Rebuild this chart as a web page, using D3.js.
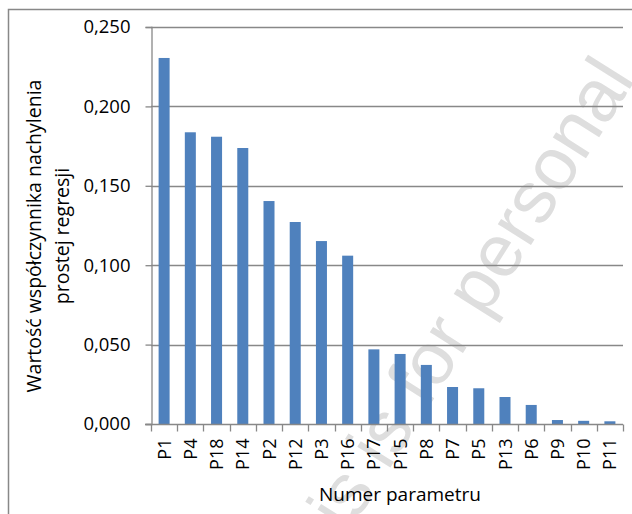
<!DOCTYPE html>
<html>
<head>
<meta charset="utf-8">
<script src="https://cdn.jsdelivr.net/npm/d3@7"></script>
<style>
  body { margin: 0; background: #fff; }
  svg text { font-family: "Open Sans", sans-serif; fill: #000; }
</style>
</head>
<body>
<div id="chart"></div>
<script>
// parameter names, sorted by slope value
var params = ["P1", "P4", "P18", "P14", "P2", "P12", "P3", "P16", "P17",
    "P15", "P8", "P7", "P5", "P13", "P6", "P9", "P10", "P11"];
var slopes = [0.2305, 0.1837, 0.1809, 0.1738, 0.1404, 0.1272, 0.1152, 0.1060, 0.0470,
    0.0441, 0.0372, 0.0233, 0.0225, 0.0170, 0.0120, 0.0025, 0.0020, 0.0017];
var yTicks = [0, 0.05, 0.1, 0.15, 0.2, 0.25];
var yTitle = ["Wartość współczynnika nachylenia", "prostej regresji"];
var xTitle = "Numer parametru";

var width = 632, height = 514;
var margin = {top: 27, right: 9, bottom: 90, left: 151};

var svg = d3.select("#chart").append("svg")
    .attr("width", width)
    .attr("height", height);

//Outer chart frame (runs off the right and bottom edges)
svg.append("rect")
    .attr("x", 8.5).attr("y", 9.5)
    .attr("width", 700).attr("height", 600)
    .attr("fill", "none")
    .attr("stroke", "#888")
    .attr("stroke-width", 1.5);

//Watermark behind the chart
svg.append("text")
    .attr("transform", "translate(636,79) rotate(-57.7)")
    .attr("text-anchor", "end")
    .style("font-family", "Liberation Sans, Arial, sans-serif")
    .style("font-size", "74px")
    .style("fill", "#dedede")
    .text("This is for personal");

var x = d3.scaleBand()
    .domain(params)
    .range([margin.left, width - margin.right])
    .paddingInner(0.58)
    .paddingOuter(0.29);

var y = d3.scaleLinear()
    .domain([0, 0.25])
    .range([height - margin.bottom, margin.top]);

//Horizontal gridlines
svg.append("g")
    .selectAll("line")
    .data(yTicks.slice(1))
    .enter()
    .append("line")
    .attr("x1", margin.left).attr("x2", width - margin.right)
    .attr("y1", function (d) { return Math.round(y(d)) + 0.5; })
    .attr("y2", function (d) { return Math.round(y(d)) + 0.5; })
    .attr("stroke", "#888")
    .attr("stroke-width", 1.3);

//Bars
svg.append("g")
    .selectAll("rect")
    .data(params)
    .enter()
    .append("rect")
    .attr("x", function (d) { return x(d); })
    .attr("width", x.bandwidth())
    .attr("y", function (d, i) { return y(slopes[i]); })
    .attr("height", function (d, i) { return y(0) - y(slopes[i]); })
    .attr("fill", "#4F81BD");

//Y axis
var fmt = function (d) { return d3.format(".3f")(d).replace(".", ","); };
var yAxis = svg.append("g")
    .attr("transform", "translate(" + (margin.left + 0.5) + ",0)")
    .call(d3.axisLeft(y).tickValues(yTicks).tickFormat(fmt).tickSize(6).tickPadding(15));
yAxis.select(".domain").attr("stroke", "#888").attr("stroke-width", 1.3);
yAxis.selectAll(".tick line").attr("stroke", "#888").attr("stroke-width", 1.3);
yAxis.selectAll("text").style("font-size", "18.5px");

//X axis with ticks on category boundaries
var xAxis = svg.append("g")
    .attr("transform", "translate(0," + (Math.round(y(0)) + 0.5) + ")");
xAxis.append("line")
    .attr("x1", margin.left - 6).attr("x2", width - margin.right)
    .attr("stroke", "#888").attr("stroke-width", 1.3);
var step = x.step();
var bounds = d3.range(params.length + 1).map(function (i) {
    return x(params[0]) - x.paddingOuter() * step + i * step;
});
xAxis.selectAll(".bound")
    .data(bounds)
    .enter()
    .append("line")
    .attr("class", "bound")
    .attr("x1", function (d) { return Math.round(d) + 0.5; })
    .attr("x2", function (d) { return Math.round(d) + 0.5; })
    .attr("y1", 0).attr("y2", 7)
    .attr("stroke", "#888").attr("stroke-width", 1.3);
xAxis.selectAll(".lbl")
    .data(params)
    .enter()
    .append("text")
    .attr("class", "lbl")
    .attr("transform", function (d) {
        return "translate(" + (x(d) + x.bandwidth() / 2 + 6.5) + ",14) rotate(-90)";
    })
    .attr("text-anchor", "end")
    .style("font-size", "18px")
    .text(function (d) { return d; });

//Axis titles
svg.append("text")
    .attr("x", 400)
    .attr("y", 501)
    .attr("text-anchor", "middle")
    .style("font-size", "19px")
    .text(xTitle);

svg.append("g")
    .attr("transform", "translate(0,236) rotate(-90)")
    .selectAll("text")
    .data(yTitle)
    .enter()
    .append("text")
    .attr("x", 0)
    .attr("y", function (d, i) { return 41 + i * 28; })
    .attr("text-anchor", "middle")
    .style("font-size", "19.5px")
    .text(function (d) { return d; });
</script>
</body>
</html>
